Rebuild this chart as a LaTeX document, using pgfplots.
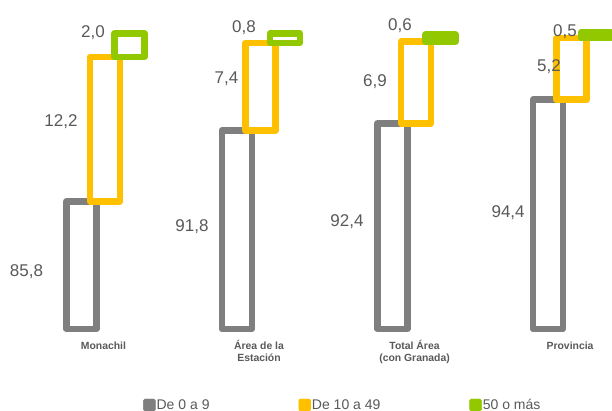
\documentclass[border=0pt]{standalone}
\usepackage{fontspec}
\setmainfont{Liberation Sans}
\usepackage{pgfplots}
\pgfplotsset{compat=1.18}
\definecolor{cgray}{RGB}{127,127,127}
\definecolor{cyellow}{RGB}{255,192,0}
\definecolor{cgreen}{RGB}{146,200,0}
\definecolor{ctext}{RGB}{89,89,89}
\newcommand{\twol}[2]{\setlength{\tabcolsep}{0pt}\begin{tabular}[t]{c}#1\\#2\end{tabular}}
\begin{document}
\begin{tikzpicture}
\path[use as bounding box] (0,0) rectangle (612pt,411pt);
\begin{axis}[at={(0,0)}, anchor=south west, scale only axis,
  width=612pt, height=411pt,
  xmin=-0.675, xmax=3.260, ymin=68.06, ymax=102.83,
  axis line style={draw=none}, tick style={draw=none}, ytick=\empty,
  xtick={0,1,2,3},
  xticklabels={Monachil,{\twol{Área de la}{Estación}},{\twol{Total Área}{(con Granada)}},Provincia},
  xticklabel style={anchor=base, yshift=61.5pt, xshift=-1.5pt,
    font=\fontsize{10.4}{12}\selectfont\bfseries, text=ctext},
  clip=true,
  legend columns=3,
  legend style={at={(0.2337,0.0146)}, anchor=west, draw=none, fill=none,
    inner sep=0pt, font=\fontsize{14}{16}\selectfont, text=ctext,
    /tikz/every even column/.append style={column sep=88pt},
    nodes={inner sep=1pt}},
  fbar/.style={line width=6.5pt, fill=white, line join=round, forget plot},
]
\addlegendimage{legend image code/.code={\fill[cgray, rounded corners=1.5pt] (0pt,-6pt) rectangle (12pt,6pt);}}
\addlegendentry{De 0 a 9}
\addlegendimage{legend image code/.code={\fill[cyellow, rounded corners=1.5pt] (0pt,-6pt) rectangle (12pt,6pt);}}
\addlegendentry{De 10 a 49}
\addlegendimage{legend image code/.code={\fill[cgreen, rounded corners=1.5pt] (0pt,-6pt) rectangle (12pt,6pt);}}
\addlegendentry{50 o más}

% De 0 a 9 (gray): from 75 up to value
\addplot[fbar, draw=cgray] coordinates {(-0.2485,75) (-0.2485,85.8) (-0.0555,85.8) (-0.0555,75)} -- cycle;
\addplot[fbar, draw=cgray] coordinates {(0.7515,75) (0.7515,91.8) (0.9445,91.8) (0.9445,75)} -- cycle;
\addplot[fbar, draw=cgray] coordinates {(1.7515,75) (1.7515,92.4) (1.9445,92.4) (1.9445,75)} -- cycle;
\addplot[fbar, draw=cgray] coordinates {(2.7515,75) (2.7515,94.4) (2.9445,94.4) (2.9445,75)} -- cycle;
% De 10 a 49 (yellow)
\addplot[fbar, draw=cyellow] coordinates {(-0.0965,85.8) (-0.0965,98.0) (0.0965,98.0) (0.0965,85.8)} -- cycle;
\addplot[fbar, draw=cyellow] coordinates {(0.9035,91.8) (0.9035,99.2) (1.0965,99.2) (1.0965,91.8)} -- cycle;
\addplot[fbar, draw=cyellow] coordinates {(1.9035,92.4) (1.9035,99.3) (2.0965,99.3) (2.0965,92.4)} -- cycle;
\addplot[fbar, draw=cyellow] coordinates {(2.9035,94.4) (2.9035,99.6) (3.0965,99.6) (3.0965,94.4)} -- cycle;
% 50 o mas (green)
\addplot[fbar, draw=cgreen] coordinates {(0.0605,98.0) (0.0605,100.0) (0.2535,100.0) (0.2535,98.0)} -- cycle;
\addplot[fbar, draw=cgreen] coordinates {(1.0605,99.2) (1.0605,100.0) (1.2535,100.0) (1.2535,99.2)} -- cycle;
\addplot[fbar, draw=cgreen] coordinates {(2.0605,99.3) (2.0605,99.9) (2.2535,99.9) (2.2535,99.3)} -- cycle;
\addplot[fbar, draw=cgreen] coordinates {(3.0605,99.6) (3.0605,100.1) (3.2535,100.1) (3.2535,99.6)} -- cycle;

% value labels
\addplot[draw=none, forget plot, nodes near coords, point meta=explicit symbolic,
  every node near coord/.append style={anchor=base, inner sep=0pt,
    font=\fontsize{17}{20}\selectfont, text=ctext}]
  table[meta=lab] {
x y lab
-0.505 79.48 85,8
-0.283 92.09 12,2
-0.077 99.62 2,0
0.559 83.21 91,8
0.781 95.73 7,4
0.894 100.04 0,8
1.556 83.63 92,4
1.736 95.47 6,9
1.897 100.21 0,6
2.592 84.39 94,4
2.855 96.74 5,2
2.958 99.70 0,5
};
\end{axis}
\end{tikzpicture}
\end{document}
